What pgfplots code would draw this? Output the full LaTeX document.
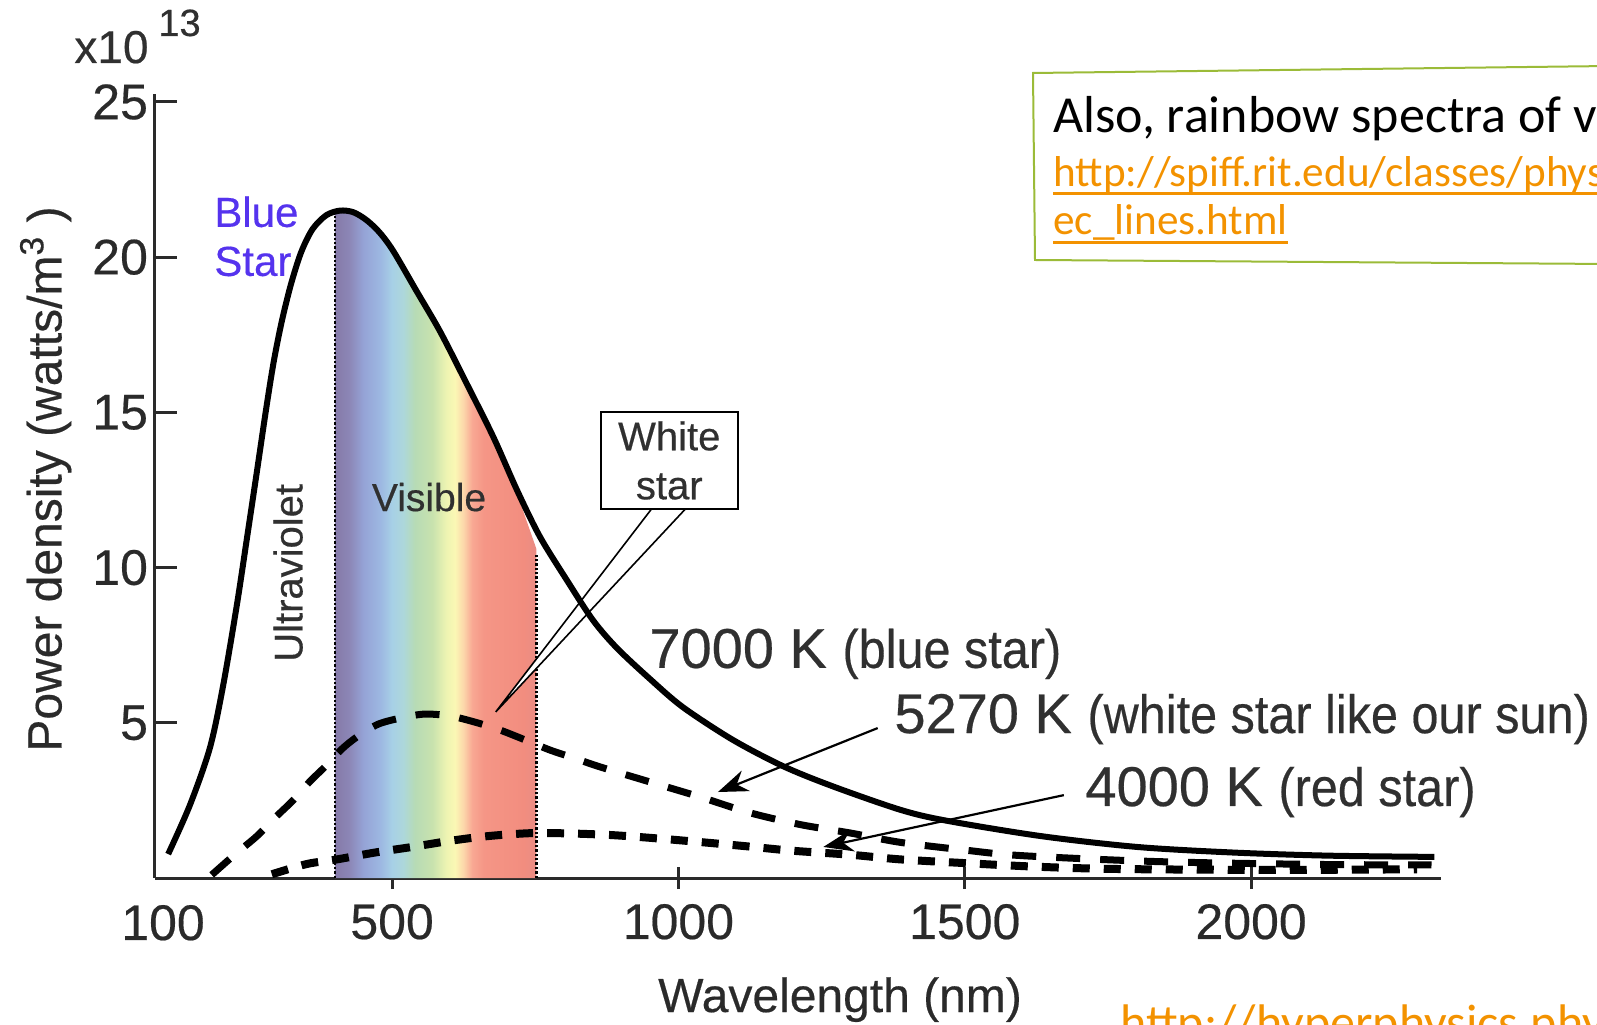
\documentclass[border=0pt]{standalone}
\usepackage{fontspec}
\setmainfont{Liberation Sans}[FakeBold=0.4]
\newfontfamily\calibri{Carlito}
\usepackage{pgfplots}
\pgfplotsset{compat=1.18}
\usetikzlibrary{arrows.meta}

\definecolor{axisgray}{HTML}{2A2A2A}
\definecolor{textgray}{HTML}{303030}
\definecolor{starblue}{HTML}{5533EE}
\definecolor{boxgreen}{HTML}{9BBB38}
\definecolor{linkorange}{HTML}{F39200}
\definecolor{r1}{HTML}{857AA8}
\definecolor{r2}{HTML}{8C86B6}
\definecolor{r3}{HTML}{95A3D6}
\definecolor{r4}{HTML}{9DB8E2}
\definecolor{r5}{HTML}{A7D0E6}
\definecolor{r6}{HTML}{ADD7DA}
\definecolor{r7}{HTML}{B7DBB5}
\definecolor{r8}{HTML}{C8E2AE}
\definecolor{r9}{HTML}{EEF4B2}
\definecolor{r10}{HTML}{FBF7B4}
\definecolor{r11}{HTML}{FCD6AA}
\definecolor{r12}{HTML}{F8A893}
\definecolor{r13}{HTML}{F59686}
\definecolor{r14}{HTML}{F28D7F}
\definecolor{r15}{HTML}{E98C84}

\pgfdeclarehorizontalshading{rainbow}{100bp}{color(0bp)=(r1); color(25bp)=(r1); color(28.55bp)=(r2); color(32.1bp)=(r3); color(36.36bp)=(r4); color(39.2bp)=(r5); color(42.05bp)=(r6); color(44.89bp)=(r7); color(49.15bp)=(r8); color(52.7bp)=(r9); color(54.83bp)=(r10); color(56.96bp)=(r11); color(59.09bp)=(r12); color(61.93bp)=(r13); color(71.88bp)=(r14); color(75bp)=(r15); color(100bp)=(r15)}

\newcommand{\ulink}[2]{\setbox0=\hbox{#2}\rlap{\rule[#1]{\wd0}{1.4pt}}\box0}

\begin{document}
\begin{tikzpicture}
\path[use as bounding box] (0,0) rectangle (798.5pt,512pt);
\begin{axis}[
  at={(77.5pt,73pt)}, anchor=south west,
  scale only axis, width=643pt, height=391.9pt,
  xmin=86, xmax=2331.6, ymin=0, ymax=25.25,
  axis lines*=left,
  axis line style={-, line width=1.5pt, color=axisgray},
  xtick={500,1000,1500,2000},
  extra x ticks={100},
  extra x tick style={major tick length=0pt, xticklabel style={yshift=-6pt}},
  ytick={5,10,15,20,25},
  xtick align=center, ytick align=inside,
  major tick length=11pt,
  tick style={line width=1.5pt, color=axisgray},
  tick label style={font=\fontsize{25}{29}\selectfont, text=axisgray},
  xticklabel style={yshift=-4pt},
  /pgf/number format/assume math mode=true,
  /pgf/number format/1000 sep={},
  scaled ticks=false,
  xlabel={Wavelength (nm)},
  ylabel={Power density (watts/m\textsuperscript{3} )},
  label style={font=\fontsize{24}{28}\selectfont, text=axisgray},
  xlabel style={at={(axis description cs:0.5327,-0.171)}, anchor=base},
  ylabel style={at={(axis description cs:-0.085,0.509)}, anchor=center},
  clip=false,
]
% rainbow band under the 7000 K curve
\addplot[draw=none, shade, shading=rainbow] coordinates {
 (400,0) (400,21.45) (409,21.5) (432,21.45) (455,21.2) (478,20.8) (502,20.2) (543,18.9)
 (584,17.6) (631,15.9) (677,14.2) (718,12.4) (752,10.6) (752,0)} -- cycle;
\addplot[densely dotted, line width=1.2pt, black] coordinates {(400,0) (400,21.45)};
\addplot[densely dotted, line width=1.2pt, black] coordinates {(752,0) (752,10.4)};

% callout wedge
\draw[fill=white, draw=black, line width=0.8pt] (axis cs:966,12.2) -- (axis cs:681,5.35) -- (axis cs:1028,12.2) -- cycle;

% 4000 K
\addplot[black, line width=4pt, dash pattern=on 8.5pt off 7pt, smooth] coordinates {
 (290,0.12) (351,0.45) (404,0.6) (470,0.82) (535,1.0) (595,1.18) (652,1.32) (700,1.4)
 (753,1.45) (820,1.43) (886,1.38) (960,1.28) (1043,1.15) (1120,1.02) (1198,0.88)
 (1300,0.75) (1387,0.6) (1500,0.48) (1630,0.36) (1767,0.29) (2035,0.26) (2290,0.28)};
% 5270 K
\addplot[black, line width=3.5pt, dash pattern=on 12pt off 10pt, smooth] coordinates {
 (185,0.1) (225,0.75) (264,1.35) (296,1.95) (327,2.5) (356,3.1) (386,3.64) (412,4.15)
 (439,4.55) (475,4.95) (514,5.15) (556,5.28) (601,5.22) (645,5.02) (688,4.77) (732,4.45)
 (776,4.12) (820,3.85) (863,3.58) (951,3.09) (1038,2.61) (1125,2.1) (1213,1.72)
 (1300,1.45) (1387,1.15) (1500,0.9) (1600,0.72) (1834,0.53) (2101,0.44) (2315,0.42)};
% 7000 K
\addplot[black, line width=3pt, smooth] coordinates {
 (109,0.77) (147,2.35) (182,4.2) (205,6.2) (229,8.8) (247,11.0) (264,13.1) (280,15.1)
 (293,16.6) (307,17.9) (323,19.1) (341,20.15) (361,20.9) (385,21.35) (409,21.5) (432,21.45)
 (455,21.2) (478,20.8) (502,20.2) (543,18.9) (584,17.6) (631,15.9) (677,14.2) (718,12.5)
 (758,11.0) (805,9.6) (851,8.3) (893,7.4) (951,6.4) (1008,5.5) (1095,4.45) (1183,3.6)
 (1270,2.95) (1387,2.2) (1467,1.85) (1633,1.35) (1801,1.0) (1969,0.82) (2135,0.72) (2320,0.68)};

% arrows
\draw[-{Stealth[length=15pt,width=11pt]}, line width=1.1pt, black] (axis cs:1348,4.83) -- (axis cs:1069,2.77);
\draw[-{Stealth[length=15pt,width=11pt]}, line width=1.1pt, black] (axis cs:1673,2.67) -- (axis cs:1253,1.0);

% labels inside the plot
\node[anchor=west, align=left, inner sep=0pt, text=starblue, font=\fontsize{21}{24.5}\selectfont] at (axis cs:189,20.67) {Blue\\Star};
\node[rotate=90, inner sep=0pt, text=textgray, font=\fontsize{20}{24}\selectfont] at (axis cs:318.5,9.83) {Ultraviolet};
\node[inner sep=0pt, text=textgray, font=\fontsize{19.5}{24}\selectfont] at (axis cs:564.5,12.27) {Visible};
\node[draw=black, line width=1pt, fill=white, minimum width=68.5pt, minimum height=48.5pt, inner sep=0pt, align=center, text=textgray, font=\fontsize{20}{24.5}\selectfont] at (axis cs:984,13.45) {White\\star};

\node[anchor=base west, inner sep=0pt, text=textgray] at (axis cs:948.7,6.77) {\fontsize{28}{32}\selectfont 7000 K \scalebox{0.9}[1]{\fontsize{27}{30}\selectfont (blue star)}};
\node[anchor=base west, inner sep=0pt, text=textgray] at (axis cs:1376.5,4.67) {\fontsize{28}{32}\selectfont 5270 K \scalebox{0.9}[1]{\fontsize{27}{30}\selectfont (white star like our sun)}};
\node[anchor=base west, inner sep=0pt, text=textgray] at (axis cs:1710,2.32) {\fontsize{28}{32}\selectfont 4000 K \scalebox{0.9}[1]{\fontsize{27}{30}\selectfont (red star)}};
\end{axis}

% multiplier
\node[anchor=base west, inner sep=0pt, text=textgray, font=\fontsize{23}{26}\selectfont] at (37pt,480.5pt) {x10};
\node[anchor=base west, inner sep=0pt, text=textgray, font=\fontsize{19}{22}\selectfont] at (79pt,494pt) {13};

% slide elements cut off by the frame
\begin{scope}
\clip (0,0) rectangle (798.5pt,512pt);
\draw[boxgreen, line width=1pt] (516.5pt,475.5pt) -- (805pt,479pt) -- (805pt,380pt) -- (517.5pt,382pt) -- cycle;
\node[anchor=base west, inner sep=0pt, font=\calibri\fontsize{26}{30}\selectfont] at (526.5pt,445.5pt) {Also, rainbow spectra of various elements};
\node[anchor=base west, inner sep=0pt, text=linkorange, font=\calibri\fontsize{21.6}{24}\selectfont] at (526.5pt,418.5pt) {\ulink{-4pt}{http://spiff.rit.edu/classes/phys301/lectures/spec\_lines/sp}};
\node[anchor=base west, inner sep=0pt, text=linkorange, font=\calibri\fontsize{21.6}{24}\selectfont] at (526.5pt,394.5pt) {\ulink{-4.6pt}{ec\_lines.html}};
\node[anchor=base west, inner sep=0pt, text=linkorange, font=\calibri\fontsize{25}{28}\selectfont] at (560pt,-7.5pt) {http://hyperphysics.phy-astr.gsu.edu/hbase/wien.html};
\end{scope}
\end{tikzpicture}
\end{document}
